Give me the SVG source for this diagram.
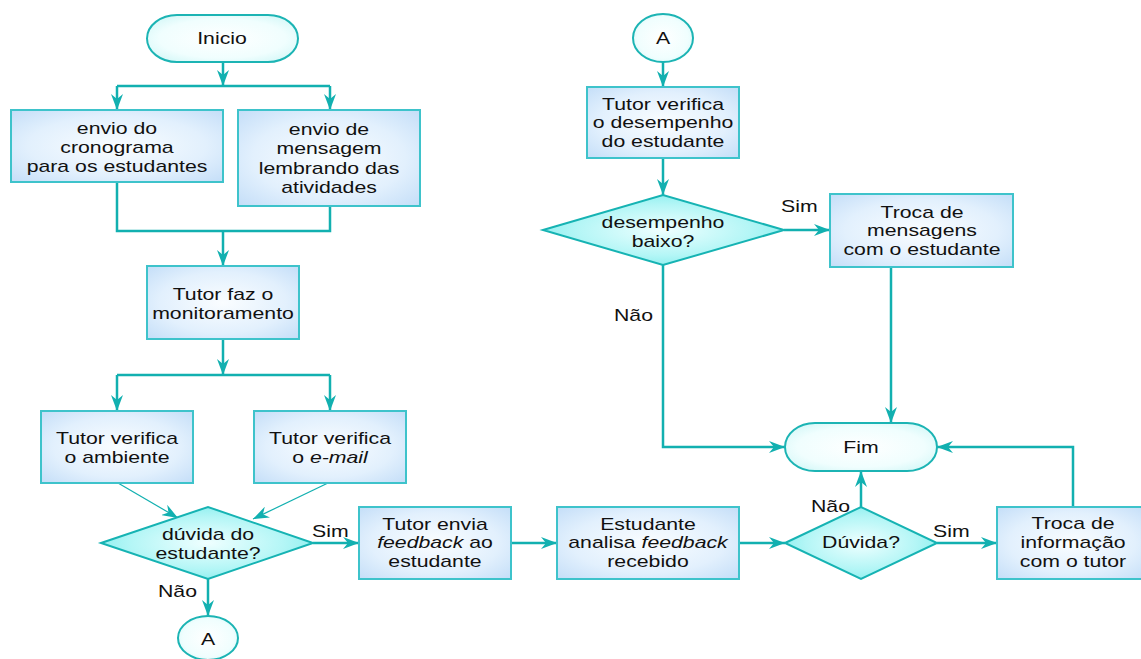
<svg xmlns="http://www.w3.org/2000/svg" width="1141" height="659" viewBox="0 0 1141 659">
<defs>
<radialGradient id="gBox" cx="50%" cy="50%" r="70%">
<stop offset="0" stop-color="#FAFDFF"/>
<stop offset="0.6" stop-color="#E2F0FD"/>
<stop offset="1" stop-color="#C4DEF8"/>
</radialGradient>
<radialGradient id="gDia" cx="50%" cy="50%" r="60%">
<stop offset="0" stop-color="#EFFFFF"/>
<stop offset="0.6" stop-color="#B4F6F6"/>
<stop offset="1" stop-color="#80ECEC"/>
</radialGradient>
<radialGradient id="gTerm" cx="50%" cy="50%" r="60%">
<stop offset="0" stop-color="#FFFFFF"/>
<stop offset="0.7" stop-color="#F0FEFE"/>
<stop offset="1" stop-color="#D6F8F8"/>
</radialGradient>
<marker id="ah" markerUnits="userSpaceOnUse" viewBox="0 0 16 12" refX="16" refY="6" markerWidth="16" markerHeight="12" orient="auto">
<path d="M0,0 L16,6 L0,12 L5,6 z" fill="#12B0B0"/>
</marker>
<style>
.box{fill:url(#gBox);stroke:#3EC3CB;stroke-width:2}
.dia{fill:url(#gDia);stroke:#16B3B3;stroke-width:2}
.term{fill:url(#gTerm);stroke:#1CB4B4;stroke-width:2}
.c{fill:none;stroke:#12B0B0;stroke-width:2.5}
.ct{fill:none;stroke:#12B0B0;stroke-width:1.2}
text{font-family:"Liberation Sans",Arial,sans-serif;font-size:17px;fill:#111}
.i{font-style:italic}
</style>
</defs>
<g id="connectors">
<path class="c" d="M223,62 V86" marker-end="url(#ah)"/>
<path class="c" d="M117,86 H330"/>
<path class="c" d="M117,86 V110" marker-end="url(#ah)"/>
<path class="c" d="M330,86 V110" marker-end="url(#ah)"/>
<path class="c" d="M117,182 V231 H330 V206"/>
<path class="c" d="M223,231 V266" marker-end="url(#ah)"/>
<path class="c" d="M223,339 V375" marker-end="url(#ah)"/>
<path class="c" d="M117,375 H330"/>
<path class="c" d="M117,375 V411" marker-end="url(#ah)"/>
<path class="c" d="M330,375 V411" marker-end="url(#ah)"/>
<path class="ct" d="M118,483 L178,518" marker-end="url(#ah)"/>
<path class="ct" d="M328,483 L253,519" marker-end="url(#ah)"/>
<path class="c" d="M313,543 H359" marker-end="url(#ah)"/>
<path class="c" d="M208,579 V616" marker-end="url(#ah)"/>
<path class="c" d="M511,543 H557" marker-end="url(#ah)"/>
<path class="c" d="M739,543 H785" marker-end="url(#ah)"/>
<path class="c" d="M937,543 H997" marker-end="url(#ah)"/>
<path class="c" d="M861,507 V471" marker-end="url(#ah)"/>
<path class="c" d="M1073,507 V447 H937" marker-end="url(#ah)"/>
<path class="c" d="M663,62 V87" marker-end="url(#ah)"/>
<path class="c" d="M663,158 V195" marker-end="url(#ah)"/>
<path class="c" d="M784,230 H830" marker-end="url(#ah)"/>
<path class="c" d="M663,265 V447 H785" marker-end="url(#ah)"/>
<path class="c" d="M891,267 V423" marker-end="url(#ah)"/>
<text transform="translate(312,537) scale(1.25,1)">Sim</text>
<text transform="translate(158,597) scale(1.25,1)">Não</text>
<text transform="translate(811,512) scale(1.25,1)">Não</text>
<text transform="translate(933,537) scale(1.25,1)">Sim</text>
<text transform="translate(781,212) scale(1.25,1)">Sim</text>
<text transform="translate(614,321) scale(1.25,1)">Não</text>
</g>
<g id="inicio">
<rect class="term" x="147" y="15" width="151" height="47" rx="30" ry="23.5"/>
<text transform="translate(222,44) scale(1.25,1)" text-anchor="middle">Inicio</text>
</g>
<g id="envio-cronograma">
<rect class="box" x="11" y="110" width="212" height="72"/>
<text transform="translate(117,134) scale(1.25,1)" text-anchor="middle"><tspan x="0" y="0">envio do</tspan><tspan x="0" y="19">cronograma</tspan><tspan x="0" y="38">para os estudantes</tspan></text>
</g>
<g id="envio-mensagem">
<rect class="box" x="238" y="110" width="182" height="96"/>
<text transform="translate(329,135) scale(1.25,1)" text-anchor="middle"><tspan x="0" y="0">envio de</tspan><tspan x="0" y="19.3">mensagem</tspan><tspan x="0" y="38.6">lembrando das</tspan><tspan x="0" y="57.9">atividades</tspan></text>
</g>
<g id="monitoramento">
<rect class="box" x="147" y="266" width="152" height="73"/>
<text transform="translate(223,300) scale(1.25,1)" text-anchor="middle"><tspan x="0" y="0">Tutor faz o</tspan><tspan x="0" y="19">monitoramento</tspan></text>
</g>
<g id="verifica-ambiente">
<rect class="box" x="41" y="411" width="152" height="72"/>
<text transform="translate(117,444) scale(1.25,1)" text-anchor="middle"><tspan x="0" y="0">Tutor verifica</tspan><tspan x="0" y="19">o ambiente</tspan></text>
</g>
<g id="verifica-email">
<rect class="box" x="254" y="411" width="152" height="72"/>
<text transform="translate(330,444) scale(1.25,1)" text-anchor="middle"><tspan x="0" y="0">Tutor verifica</tspan><tspan x="0" y="19">o <tspan class="i">e-mail</tspan></tspan></text>
</g>
<g id="duvida-estudante">
<polygon class="dia" points="101,543 208,507 313,543 208,579"/>
<text transform="translate(208,540) scale(1.25,1)" text-anchor="middle"><tspan x="0" y="0">dúvida do</tspan><tspan x="0" y="19">estudante?</tspan></text>
</g>
<g id="conector-a-baixo">
<ellipse class="term" cx="208" cy="638" rx="30" ry="22"/>
<text transform="translate(208,645) scale(1.25,1)" text-anchor="middle">A</text>
</g>
<g id="envia-feedback">
<rect class="box" x="359" y="507" width="152" height="72"/>
<text transform="translate(435,530) scale(1.25,1)" text-anchor="middle"><tspan x="0" y="0">Tutor envia</tspan><tspan x="0" y="18.5"><tspan class="i">feedback</tspan> ao</tspan><tspan x="0" y="37">estudante</tspan></text>
</g>
<g id="analisa-feedback">
<rect class="box" x="557" y="507" width="182" height="72"/>
<text transform="translate(648,530) scale(1.25,1)" text-anchor="middle"><tspan x="0" y="0">Estudante</tspan><tspan x="0" y="18.5">analisa <tspan class="i">feedback</tspan></tspan><tspan x="0" y="37">recebido</tspan></text>
</g>
<g id="duvida">
<polygon class="dia" points="785,543 861,507 937,543 861,579"/>
<text transform="translate(861,548) scale(1.25,1)" text-anchor="middle">Dúvida?</text>
</g>
<g id="troca-informacao">
<rect class="box" x="997" y="507" width="150" height="72"/>
<text transform="translate(1073,529) scale(1.25,1)" text-anchor="middle"><tspan x="0" y="0">Troca de</tspan><tspan x="0" y="19">informação</tspan><tspan x="0" y="38">com o tutor</tspan></text>
</g>
<g id="fim">
<rect class="term" x="785" y="423" width="152" height="48" rx="30" ry="24"/>
<text transform="translate(861,453) scale(1.25,1)" text-anchor="middle">Fim</text>
</g>
<g id="conector-a-topo">
<ellipse class="term" cx="663" cy="38" rx="30" ry="24"/>
<text transform="translate(663,44) scale(1.25,1)" text-anchor="middle">A</text>
</g>
<g id="verifica-desempenho">
<rect class="box" x="587" y="87" width="152" height="71"/>
<text transform="translate(663,110) scale(1.25,1)" text-anchor="middle"><tspan x="0" y="0">Tutor verifica</tspan><tspan x="0" y="18.5">o desempenho</tspan><tspan x="0" y="37">do estudante</tspan></text>
</g>
<g id="desempenho-baixo">
<polygon class="dia" points="543,230 663,195 784,230 663,265"/>
<text transform="translate(663,228) scale(1.25,1)" text-anchor="middle"><tspan x="0" y="0">desempenho</tspan><tspan x="0" y="19">baixo?</tspan></text>
</g>
<g id="troca-mensagens">
<rect class="box" x="830" y="194" width="183" height="73"/>
<text transform="translate(922,218) scale(1.25,1)" text-anchor="middle"><tspan x="0" y="0">Troca de</tspan><tspan x="0" y="18.5">mensagens</tspan><tspan x="0" y="37">com o estudante</tspan></text>
</g>
</svg>
